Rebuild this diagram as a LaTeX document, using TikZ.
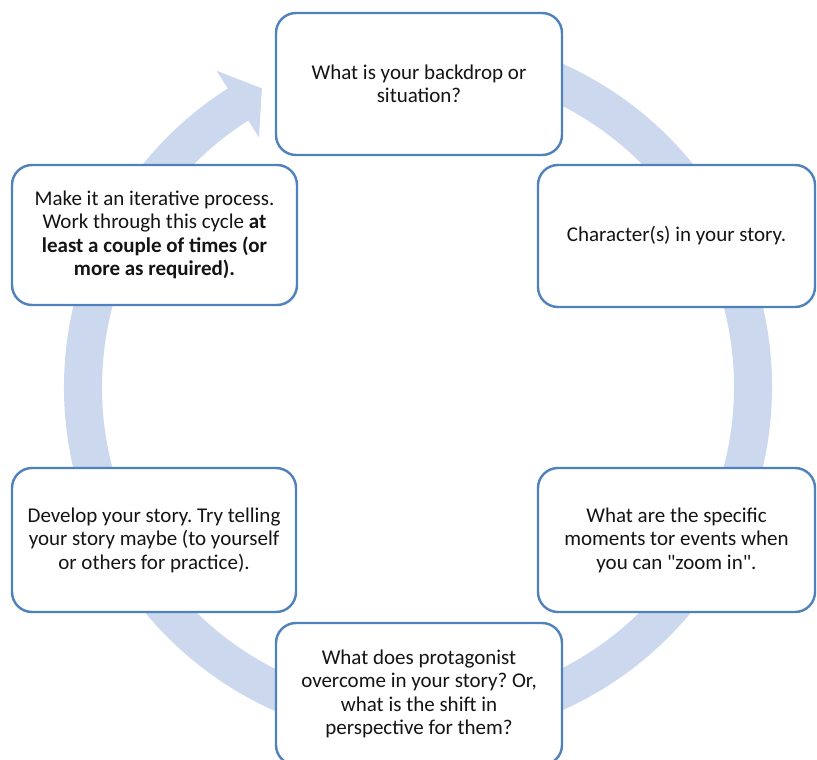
\documentclass[tikz,border=0pt]{standalone}
\usepackage{fontspec}
\setmainfont{Carlito}
\frenchspacing
\definecolor{ringblue}{HTML}{CBD8EE}
\definecolor{boxline}{HTML}{4F81BD}
\definecolor{inktext}{HTML}{141414}
\tikzset{
  stepbox/.style={draw=boxline, line width=2.4pt, fill=white, rounded corners=20pt,
    align=center, text=inktext, inner sep=0pt,
    font=\fontsize{21}{23.5}\selectfont},
}
\begin{document}
\begin{tikzpicture}[x=1pt,y=-1pt]
\useasboundingbox (0,0) rectangle (817,760);
\clip (0,0) rectangle (817,760);
\fill[white] (0,0) rectangle (817,760);

% circular arrow running clockwise behind the boxes
\begin{scope}[shift={(418,387)}, y=1pt]
  \fill[ringblue] (85:354pt) arc[start angle=85, end angle=-237.5, radius=354pt]
    -- (-237.5:375pt) -- (-242.4:337pt) -- (-237.5:296pt) -- (-237.5:316pt)
    arc[start angle=-237.5, end angle=85, radius=316pt] -- cycle;
\end{scope}

% the six steps of the cycle
\node[stepbox, minimum width=286pt, minimum height=142pt] (backdrop) at (419,84)
  {What is your backdrop or\\situation?};
\node[stepbox, minimum width=277pt, minimum height=142pt] (character) at (676.5,236)
  {Character(s) in your story.};
\node[stepbox, minimum width=277pt, minimum height=144pt] (moments) at (676.5,540)
  {What are the specific\\moments tor events when\\you can \textquotedbl zoom in\textquotedbl.};
\node[stepbox, minimum width=286pt, minimum height=142pt] (overcome) at (419,694)
  {What does protagonist\\overcome in your story? Or,\\what is the shift in\\perspective for them?};
\node[stepbox, minimum width=284pt, minimum height=144pt] (develop) at (154,540)
  {Develop your story. Try telling\\your story maybe (to yourself\\or others for practice).};
\node[stepbox, minimum width=285pt, minimum height=140pt] (iterate) at (154.5,235)
  {Make it an iterative process.\\Work through this cycle \textbf{at}\\\textbf{least a couple of times (or}\\\textbf{more as required).}};
\end{tikzpicture}
\end{document}
